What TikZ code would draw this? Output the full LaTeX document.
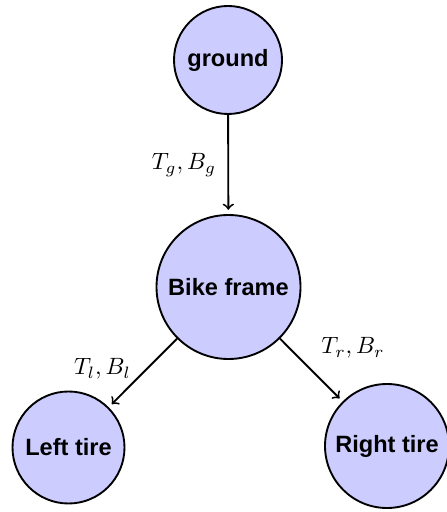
\documentclass[tikz,border=0pt]{standalone}
\usepackage{fontspec}
\setmainfont{Liberation Sans}
\tikzset{
  body/.style={circle, draw=black, thick, fill=blue!20, inner sep=0pt, font=\bfseries},
  link/.style={->, thick, shorten >=1.8pt},
  lbl/.style={inner sep=0pt}
}
\begin{document}
\begin{tikzpicture}[x=0.424pt,y=-0.424pt]
\useasboundingbox (0,0) rectangle (446,512);
\node[body, minimum size=108*0.424pt] (ground) at (228,60) {ground};
\node[body, minimum size=144*0.424pt] (frame) at (228.5,287) {Bike frame};
\node[body, minimum size=112*0.424pt] (left) at (68.5,447.5) {Left tire};
\node[body, minimum size=124*0.424pt] (right) at (387,446) {Right tire};
\draw[link] (ground) -- (frame);
\draw[link] (frame) -- (left);
\draw[link] (frame) -- (right);
\node[lbl] (lg) at (184,165) {$T_g, B_g$};
\node[lbl] (ll) at (102.5,369) {$T_l, B_l$};
\node[lbl] (lr) at (353,348) {$T_r, B_r$};
\end{tikzpicture}
\end{document}
